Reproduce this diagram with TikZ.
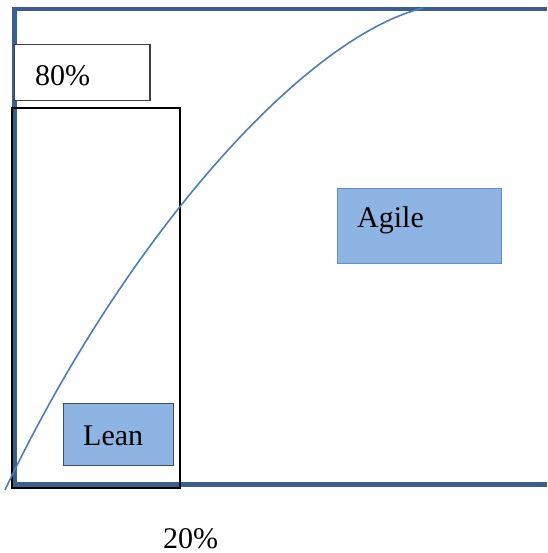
\documentclass[tikz,border=0pt]{standalone}
\usepackage{fontspec}
\setmainfont{Liberation Serif}
\definecolor{framecol}{RGB}{59,94,140}
\definecolor{curvecol}{RGB}{74,126,187}
\definecolor{boxfill}{RGB}{142,180,227}
\definecolor{leanedge}{RGB}{64,76,92}
\definecolor{agileedge}{RGB}{92,142,208}
\tikzset{
  lbl/.style={font=\fontsize{30}{34}\selectfont, inner sep=0pt, anchor=base west},
  region/.style={draw=black, line width=2pt},
  tag/.style={draw=black!75, line width=1.1pt, fill=white},
}
\begin{document}
\begin{tikzpicture}[x=1pt,y=-1pt]
  \useasboundingbox (0,0) rectangle (547,553);
  % axes frame
  \draw[framecol, line width=4.5pt] (547,9) -- (14.5,9) -- (14.5,484.5) -- (547,484.5);
  % lean region and percentage tag
  \draw[region] (12,108.5) rectangle (180,487.5);
  \draw[tag] (14.5,44.5) rectangle (150,100.5);
  \node[lbl] (p80) at (35,86) {80\%};
  % coloured boxes
  \draw[fill=boxfill, draw=leanedge, line width=1pt] (63,403.5) rectangle (173,465);
  \node[lbl] (lean) at (83,445) {Lean};
  \draw[fill=boxfill, draw=agileedge, line width=1pt] (337,188.5) rectangle (501,263);
  \node[lbl] (agile) at (357,227) {Agile};
  % growth curve
  \draw[curvecol, line width=1.6pt] (5,490) .. controls (125,238) and (303,38) .. (423,8);
  \node[lbl] (p20) at (163,548) {20\%};
\end{tikzpicture}
\end{document}
